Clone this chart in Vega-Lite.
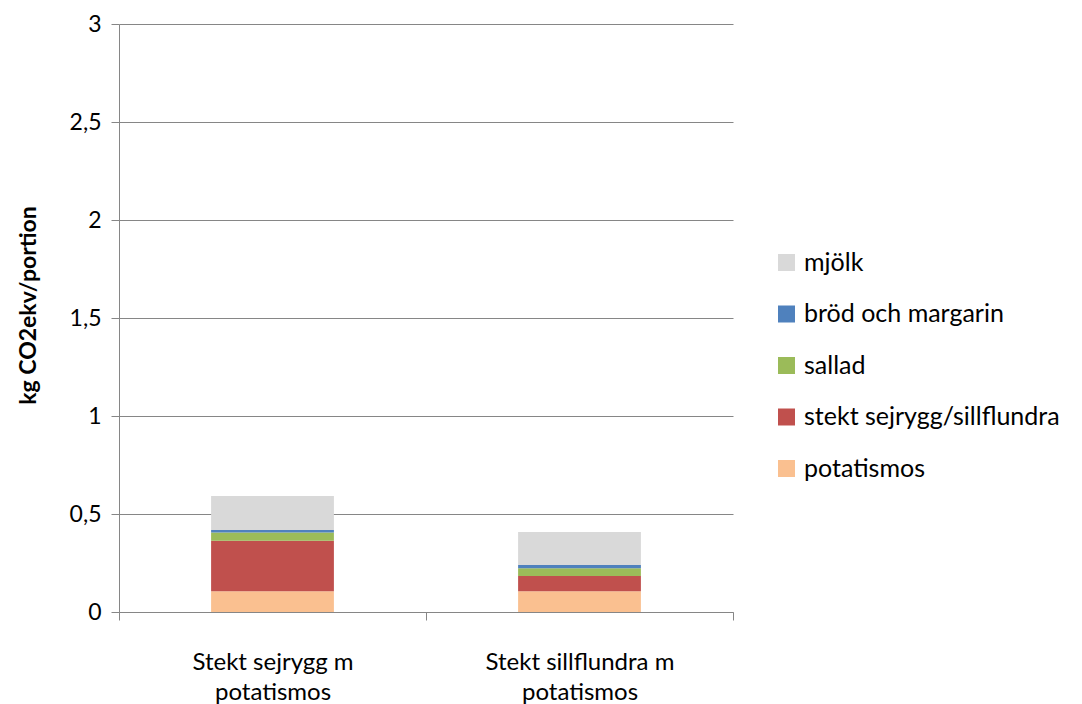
{
  "$schema": "https://vega.github.io/schema/vega-lite/v6.json",
  "autosize": "none",
  "width": 614,
  "height": 588,
  "padding": {"left": 119, "top": 24, "right": 349, "bottom": 92},
  "background": "white",
  "config": {
    "font": "Lato",
    "view": {"stroke": null}
  },
  "data": {
    "values": [
      {"meal": "Stekt sejrygg m|potatismos", "item": "potatismos", "rank": 1, "value": 0.106},
      {"meal": "Stekt sejrygg m|potatismos", "item": "stekt sejrygg/sillflundra", "rank": 2, "value": 0.258},
      {"meal": "Stekt sejrygg m|potatismos", "item": "sallad", "rank": 3, "value": 0.041},
      {"meal": "Stekt sejrygg m|potatismos", "item": "bröd och margarin", "rank": 4, "value": 0.014},
      {"meal": "Stekt sejrygg m|potatismos", "item": "mjölk", "rank": 5, "value": 0.173},
      {"meal": "Stekt sillflundra m|potatismos", "item": "potatismos", "rank": 1, "value": 0.106},
      {"meal": "Stekt sillflundra m|potatismos", "item": "stekt sejrygg/sillflundra", "rank": 2, "value": 0.078},
      {"meal": "Stekt sillflundra m|potatismos", "item": "sallad", "rank": 3, "value": 0.039},
      {"meal": "Stekt sillflundra m|potatismos", "item": "bröd och margarin", "rank": 4, "value": 0.017},
      {"meal": "Stekt sillflundra m|potatismos", "item": "mjölk", "rank": 5, "value": 0.168}
    ]
  },
  "mark": {"type": "bar", "width": {"band": 0.4}},
  "encoding": {
    "x": {
      "field": "meal",
      "type": "nominal",
      "sort": null,
      "scale": {"paddingInner": 0, "paddingOuter": 0},
      "axis": {
        "title": null,
        "labelAngle": 0,
        "labelExpr": "split(datum.label, '|')",
        "labelFontSize": 24,
        "labelColor": "#000000",
        "labelLineHeight": 30,
        "labelPadding": 30,
        "labelLimit": 400,
        "tickBand": "extent",
        "tickSize": 8,
        "tickColor": "#868686",
        "domainColor": "#868686",
        "grid": false
      }
    },
    "y": {
      "field": "value",
      "type": "quantitative",
      "stack": "zero",
      "scale": {"domain": [0, 3], "nice": false},
      "axis": {
        "title": "kg CO2ekv/portion",
        "titleFontSize": 23,
        "titleFontWeight": "bold",
        "titleColor": "#000000",
        "titlePadding": 29,
        "titleY": 281,
        "values": [0, 0.5, 1, 1.5, 2, 2.5, 3],
        "labelExpr": "replace(format(datum.value, ''), '.', ',')",
        "labelFontSize": 23,
        "labelColor": "#000000",
        "labelPadding": 10,
        "tickSize": 8,
        "tickColor": "#868686",
        "domainColor": "#868686",
        "gridColor": "#868686",
        "grid": true
      }
    },
    "color": {
      "field": "item",
      "type": "nominal",
      "scale": {
        "domain": ["mjölk", "bröd och margarin", "sallad", "stekt sejrygg/sillflundra", "potatismos"],
        "range": ["#D9D9D9", "#4F81BD", "#9BBB59", "#C0504D", "#FAC090"]
      },
      "legend": {
        "title": null,
        "orient": "none",
        "legendX": 655,
        "legendY": 226,
        "symbolType": "square",
        "symbolSize": 289,
        "symbolStrokeWidth": 0,
        "labelFontSize": 25,
        "labelColor": "#000000",
        "labelOffset": 5,
        "labelLimit": 400,
        "rowPadding": 25.5
      }
    },
    "order": {"field": "rank", "type": "quantitative"}
  }
}
